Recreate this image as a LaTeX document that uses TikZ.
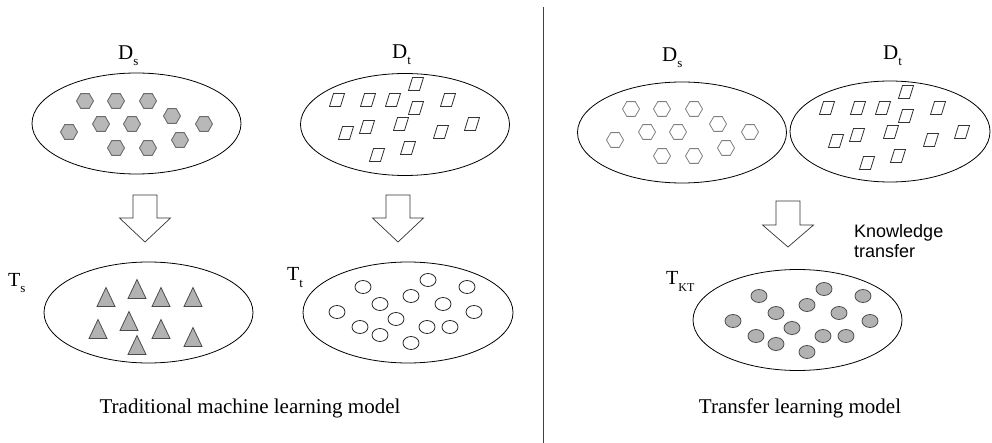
\documentclass[tikz,border=0pt]{standalone}
\usepackage{fontspec}
\setmainfont{Liberation Serif}
\newfontfamily\arialfont{Liberation Sans}
\usetikzlibrary{shapes.geometric,positioning}

\newcommand{\lsub}[1]{\raisebox{-6pt}{\fontsize{13}{13}\selectfont #1}}
\newcommand{\hexlist}{85/101,116/101,148/101,172/116,204/124,101/124,132/124,69/132,116/148,148/148,180/140}
\newcommand{\parlist}{337/100,368/100,393/100,416/84,416/108,448/100,346/133,367/127,401/124,441/132,472/124,377/155,408/148}
\newcommand{\circlist}{363/287,428/280,467/287,380/304,411/296,443/304,337/312,474/312,396/319,360/327,380/335,427/327,450/327,411/343}

\begin{document}
\begin{tikzpicture}[x=1pt,y=-1pt,
	set/.style={draw,ellipse,line width=0.8pt,minimum width=209pt,minimum height=101pt,inner sep=0pt},
	lbl/.style={anchor=base west,inner sep=0pt,font=\fontsize{21}{21}\selectfont},
	caption/.style={anchor=base,inner sep=0pt,font=\fontsize{21}{21}\selectfont},
	hexfull/.style={fill=black!28,draw=black!58,line width=0.9pt},
	hexopen/.style={draw=black!50,line width=0.8pt},
	par/.style={draw=black!80,line width=0.8pt},
	tri/.style={fill=black!30,draw=black!70,line width=0.8pt},
	dot/.style={draw=black!85,line width=0.8pt},
	dotfull/.style={fill=black!30,draw=black!70,line width=0.8pt},
	blockarrow/.style={draw=black!80,fill=white,line width=0.7pt}]
	\useasboundingbox (0,0) rectangle (992,443);
	
	% traditional model
	\node[set] (Ds) at (136.5,123.5) {};
	\node[set,minimum height=102pt] (Dt) at (405,124.5) {};
	\node[set] (Ts) at (148.5,312.5) {};
	\node[set,minimum width=210pt] (Tt) at (408,312.5) {};
	
	\node[lbl] (DsLbl) at (118,60) {D\lsub{s}};
	\node[lbl] (DtLbl) at (392,59) {D\lsub{t}};
	\node[lbl,font=\fontsize{20}{20}\selectfont] (TsLbl) at (8,287) {T\lsub{s}};
	\node[lbl,font=\fontsize{20}{20}\selectfont] (TtLbl) at (287,281) {T\lsub{t}};
	
	\foreach \x/\y in \hexlist
		\draw[hexfull] (\x,\y) +(0:8.5) -- +(60:8.5) -- +(120:8.5) -- +(180:8.5) -- +(240:8.5) -- +(300:8.5) -- cycle;
	\foreach \x/\y in \parlist
		\draw[par] (\x,\y) +(-7.5,6.5) -- +(3.5,6.5) -- +(7.5,-6.5) -- +(-3.5,-6.5) -- cycle;
	\foreach \x/\y in {106/297,137/289,161/297,193/297,98/329,129/321,161/329,137/345,193/337}
		\draw[tri] (\x,\y) +(-9,9.5) -- +(9,9.5) -- +(0,-9.5) -- cycle;
	\foreach \x/\y in \circlist
		\draw[dot] (\x,\y) ellipse (8 and 6.5);
	
	\coordinate (arrL) at (145,195);
	\coordinate (arrM) at (398,195);
	\draw[blockarrow] (arrL) ++(-12,0) -- ++(0,23) -- ++(-13.5,0) -- ++(25.5,24) -- ++(25.5,-24) -- ++(-13.5,0) -- ++(0,-23) -- cycle;
	\draw[blockarrow] (arrM) ++(-12,0) -- ++(0,23) -- ++(-13.5,0) -- ++(25.5,24) -- ++(25.5,-24) -- ++(-13.5,0) -- ++(0,-23) -- cycle;
	
	\node[caption] (capL) at (250,413) {Traditional machine learning model};
	
	% divider
	\coordinate (divTop) at (543.5,7);
	\coordinate (divBot) at (543.5,443);
	\draw[black!75,line width=0.9pt] (divTop) -- (divBot);
	
	% transfer model
	\node[set] (Ds2) at (682,132.5) {};
	\node[set,minimum width=200pt] (Dt2) at (890,131.5) {};
	\node[set] (Tkt) at (797.5,320) {};
	
	\node[lbl] (Ds2Lbl) at (662,62) {D\lsub{s}};
	\node[lbl] (Dt2Lbl) at (883,60) {D\lsub{t}};
	\node[lbl,font=\fontsize{20}{20}\selectfont] (TktLbl) at (666,285) {T\raisebox{-6pt}{\fontsize{12}{12}\selectfont KT}};
	
	\begin{scope}[shift={(546,8)}]
		\foreach \x/\y in \hexlist
			\draw[hexopen] (\x,\y) +(0:8.5) -- +(60:8.5) -- +(120:8.5) -- +(180:8.5) -- +(240:8.5) -- +(300:8.5) -- cycle;
	\end{scope}
	\begin{scope}[shift={(490,8)}]
		\foreach \x/\y in \parlist
			\draw[par] (\x,\y) +(-7.5,6.5) -- +(3.5,6.5) -- +(7.5,-6.5) -- +(-3.5,-6.5) -- cycle;
	\end{scope}
	\begin{scope}[shift={(396,9)}]
		\foreach \x/\y in \circlist
			\draw[dotfull] (\x,\y) ellipse (8 and 6.5);
	\end{scope}
	
	\coordinate (arrR) at (788,201);
	\draw[blockarrow] (arrR) ++(-12,0) -- ++(0,24) -- ++(-13.5,0) -- ++(25.5,22) -- ++(25.5,-22) -- ++(-13.5,0) -- ++(0,-24) -- cycle;
	
	\node[lbl,font=\arialfont\fontsize{18}{18}\selectfont] (know) at (854,238) {Knowledge};
	\node[lbl,font=\arialfont\fontsize{18}{18}\selectfont] (trans) at (854,258) {transfer};
	
	\node[caption] (capR) at (800,413) {Transfer learning model};
\end{tikzpicture}
\end{document}
